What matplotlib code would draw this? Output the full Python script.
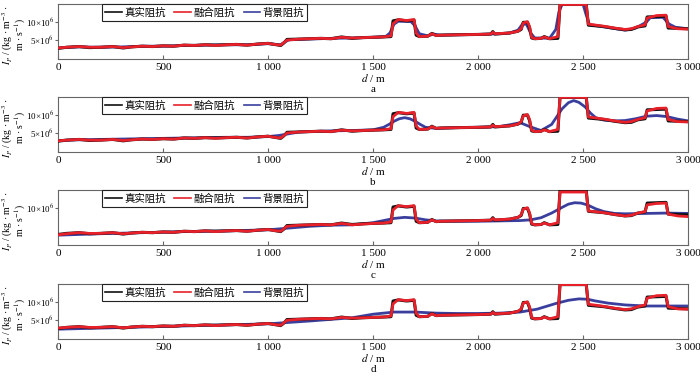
import matplotlib
matplotlib.use("Agg")
import matplotlib.pyplot as plt

plt.rcParams["font.family"] = ["Liberation Serif", "Noto Sans CJK SC", "DejaVu Sans"]
plt.rcParams["mathtext.fontset"] = "stix"

# impedance values in units of 1e6 kg/(m^3) * m/s
true_d = [0, 40, 100, 150, 200, 260, 310, 350, 400, 450, 500, 550, 600, 650, 700, 750, 800, 850, 900, 950,
          1000, 1030, 1060, 1075, 1090, 1150, 1200, 1250, 1300, 1350, 1400, 1450, 1500, 1550, 1585, 1595, 1620, 1660, 1695, 1705,
          1720, 1760, 1780, 1800, 1820, 1900, 2000, 2060, 2070, 2080, 2150, 2190, 2205, 2215, 2235, 2245, 2255, 2270, 2300, 2315,
          2340, 2380, 2390, 2515, 2525, 2600, 2650, 2700, 2730, 2760, 2795, 2805, 2850, 2895, 2905, 2950, 3000]
true_v = [2.7, 3.0, 3.2, 2.9, 3.0, 3.2, 2.8, 3.1, 3.3, 3.2, 3.4, 3.3, 3.6, 3.5, 3.7, 3.6, 3.7, 3.8, 3.6, 3.9,
          4.1, 3.8, 3.5, 4.2, 5.2, 5.3, 5.4, 5.5, 5.4, 5.9, 5.5, 5.7, 5.8, 5.9, 6.0, 10.4, 10.7, 10.4, 10.6, 6.4,
          6.0, 6.1, 6.9, 6.3, 6.4, 6.5, 6.6, 6.7, 7.4, 6.7, 7.0, 7.5, 8.0, 10.0, 10.0, 8.5, 5.6, 5.4, 5.5, 6.0,
          5.4, 5.5, 15.0, 15.0, 9.2, 8.8, 8.3, 7.9, 8.0, 8.7, 9.0, 11.5, 11.6, 11.7, 8.4, 8.3, 8.2]

# fused impedance (same depth grid as true)
fused_v = [2.8, 3.0, 3.2, 3.0, 3.0, 3.2, 2.9, 3.1, 3.3, 3.2, 3.4, 3.3, 3.6, 3.5, 3.7, 3.5, 3.7, 3.8, 3.6, 3.9,
           4.1, 3.8, 3.6, 4.3, 5.0, 5.3, 5.4, 5.5, 5.4, 5.8, 5.6, 5.7, 5.8, 5.9, 6.2, 9.6, 10.8, 10.5, 10.8, 7.0,
           6.0, 6.1, 6.8, 6.3, 6.4, 6.5, 6.6, 6.7, 7.2, 6.8, 7.0, 7.5, 8.2, 9.8, 10.2, 8.8, 5.8, 5.4, 5.5, 5.9,
           5.4, 6.0, 15.0, 15.0, 9.5, 8.9, 8.4, 8.0, 8.2, 8.8, 9.3, 11.2, 11.9, 12.0, 8.8, 8.2, 8.1]
fused_c_v = [2.6, 2.9, 3.2, 3.0, 3.0, 3.2, 2.9, 3.1, 3.3, 3.2, 3.4, 3.3, 3.6, 3.5, 3.7, 3.5, 3.7, 3.8, 3.6, 3.9,
             4.1, 3.8, 3.6, 4.3, 5.0, 5.3, 5.4, 5.5, 5.4, 5.8, 5.4, 5.6, 5.8, 5.9, 6.2, 9.6, 10.8, 10.5, 10.8, 7.0,
             6.0, 6.1, 6.8, 6.3, 6.4, 6.5, 6.6, 6.7, 7.2, 6.8, 7.0, 7.5, 8.2, 9.8, 10.2, 8.8, 5.8, 5.4, 5.5, 5.9,
             5.4, 6.0, 14.6, 14.6, 9.3, 8.8, 8.3, 7.9, 8.1, 8.7, 9.1, 11.0, 11.4, 11.5, 8.4, 7.9, 7.7]

# background impedance, one per panel
bg_a_d = [0, 100, 200, 300, 400, 500, 600, 700, 800, 900, 1000, 1040, 1060, 1080, 1100, 1200, 1300, 1400, 1500, 1560,
          1580, 1600, 1620, 1680, 1700, 1720, 1760, 1790, 1820, 1900, 2000, 2100, 2150, 2190, 2210, 2230, 2250, 2270, 2300, 2340,
          2370, 2385, 2400, 2500, 2515, 2530, 2600, 2700, 2750, 2800, 2820, 2880, 2910, 2940, 3000]
bg_a_v = [2.8, 3.1, 3.0, 3.1, 3.3, 3.3, 3.5, 3.6, 3.7, 3.7, 4.0, 3.8, 3.7, 4.5, 5.1, 5.3, 5.5, 5.6, 5.8, 6.0,
          7.0, 9.5, 10.3, 10.2, 9.0, 6.8, 6.2, 6.7, 6.4, 6.5, 6.6, 6.8, 7.0, 7.8, 9.4, 9.5, 7.0, 5.6, 5.6, 5.5,
          8.0, 13.0, 15.0, 15.0, 12.0, 9.4, 8.7, 7.8, 8.4, 10.0, 11.3, 11.4, 9.5, 8.6, 8.2]

bg_b_d = [0, 100, 200, 300, 400, 500, 600, 700, 800, 900, 1000, 1050, 1100, 1150, 1200, 1300, 1400, 1500, 1550, 1575,
          1600, 1625, 1650, 1675, 1700, 1725, 1750, 1800, 1900, 2000, 2100, 2150, 2200, 2250, 2300, 2350, 2375, 2400, 2430, 2455,
          2480, 2510, 2535, 2560, 2600, 2650, 2700, 2750, 2800, 2850, 2900, 2950, 3000]
bg_b_v = [2.9, 3.1, 3.2, 3.3, 3.4, 3.5, 3.6, 3.7, 3.8, 3.8, 4.0, 4.3, 4.8, 5.3, 5.4, 5.6, 5.7, 5.9, 6.6, 7.4,
          8.3, 9.0, 9.3, 9.0, 8.3, 7.4, 6.6, 6.3, 6.5, 6.6, 6.8, 7.3, 7.9, 6.7, 5.7, 7.4, 9.6, 11.8, 13.5, 14.1,
          13.6, 12.3, 10.6, 9.3, 8.6, 8.4, 8.5, 9.0, 9.7, 9.9, 9.6, 8.9, 8.4]

bg_c_d = [0, 200, 400, 600, 800, 1000, 1100, 1200, 1300, 1400, 1500, 1550, 1600, 1650, 1700, 1750, 1800, 1900,
          2000, 2100, 2200, 2250, 2300, 2350, 2400, 2430, 2460, 2490, 2520, 2560, 2600, 2650, 2700, 2800, 2900, 3000]
bg_c_v = [2.5, 2.9, 3.2, 3.5, 3.7, 4.0, 4.5, 5.0, 5.3, 5.4, 6.0, 6.6, 7.2, 7.5, 7.3, 6.8, 6.5, 6.4,
          6.4, 6.5, 6.6, 6.8, 7.4, 8.7, 10.3, 11.2, 11.6, 11.5, 11.0, 9.9, 9.1, 8.6, 8.5, 8.6, 8.7, 8.6]

bg_d_d = [0, 200, 400, 600, 800, 1000, 1200, 1400, 1500, 1600, 1700, 1800, 1900, 2000, 2100, 2200,
          2280, 2370, 2430, 2480, 2520, 2560, 2620, 2700, 2800, 2900, 3000]
bg_d_v = [2.5, 2.8, 3.1, 3.4, 3.7, 4.0, 4.8, 5.7, 6.7, 7.3, 7.3, 7.0, 6.9, 6.9, 7.0, 7.3,
          8.1, 9.7, 10.6, 11.0, 10.9, 10.4, 9.8, 9.3, 9.0, 9.0, 9.0]

panels = [("a", fused_v, bg_a_d, bg_a_v, [5, 10]),
          ("b", fused_v, bg_b_d, bg_b_v, [5, 10]),
          ("c", fused_c_v, bg_c_d, bg_c_v, [10]),
          ("d", fused_v, bg_d_d, bg_d_v, [5, 10])]
x_ticks = [0, 500, 1000, 1500, 2000, 2500, 3000]
x_labels = ["0", "500", "1 000", "1 500", "2 000", "2 500", "3 000"]
names = ["真实阻抗", "融合阻抗", "背景阻抗"]

BLACK, RED, BLUE, FRAME = "#111111", "#e8202a", "#3a3f9e", "#666666"
bottoms = [0.843, 0.596, 0.348, 0.098]

fig = plt.figure(figsize=(7.0, 3.76), dpi=100)
for (tag, fv, bd, bv, yt), y0 in zip(panels, bottoms):
    ax = fig.add_axes([0.083, y0, 0.9, 0.146])
    l_bg, = ax.plot(bd, bv, color=BLUE, lw=2.0, zorder=2)
    l_true, = ax.plot(true_d, true_v, color=BLACK, lw=2.2, zorder=3)
    l_fus, = ax.plot(true_d, fv, color=RED, lw=2.0, zorder=4)
    ax.set_xlim(0, 3000); ax.set_ylim(-0.3, 15.1)
    ax.set_xticks(x_ticks); ax.set_xticklabels(x_labels)
    ax.set_yticks(yt); ax.set_yticklabels([f"{v}×10$^{{6}}$" for v in yt])
    ax.tick_params(axis="x", direction="in", length=3, labelsize=8, pad=3, color=FRAME)
    ax.tick_params(axis="y", direction="out", length=2, labelsize=6.5, pad=1, color=FRAME)
    for s in ax.spines.values():
        s.set_color(FRAME); s.set_linewidth(0.8)
    ax.set_xlabel("$d$ / m", fontsize=8, labelpad=0)
    ax.set_ylabel("$I_P$ / (kg · m$^{-3}$ ·\nm · s$^{-1}$)", fontsize=7, linespacing=0.85)
    ax.yaxis.set_label_coords(-0.047, 0.44)
    ax.text(0.5, -0.56, tag, transform=ax.transAxes, ha="center", va="center", fontsize=8)
    leg = ax.legend([l_true, l_fus, l_bg], names, loc="upper left", bbox_to_anchor=(0.07, 1.0),
                    borderaxespad=0, ncol=3, prop={"family": ["Noto Sans CJK SC"], "size": 7.5},
                    handlelength=1.6, columnspacing=0.8, handletextpad=0.25, borderpad=0.3,
                    fancybox=False, framealpha=1, edgecolor="#222222")
    leg.get_frame().set_linewidth(0.8)
    for h in leg.get_lines():
        h.set_linewidth(1.2)

fig.savefig("out.png", dpi=100)
